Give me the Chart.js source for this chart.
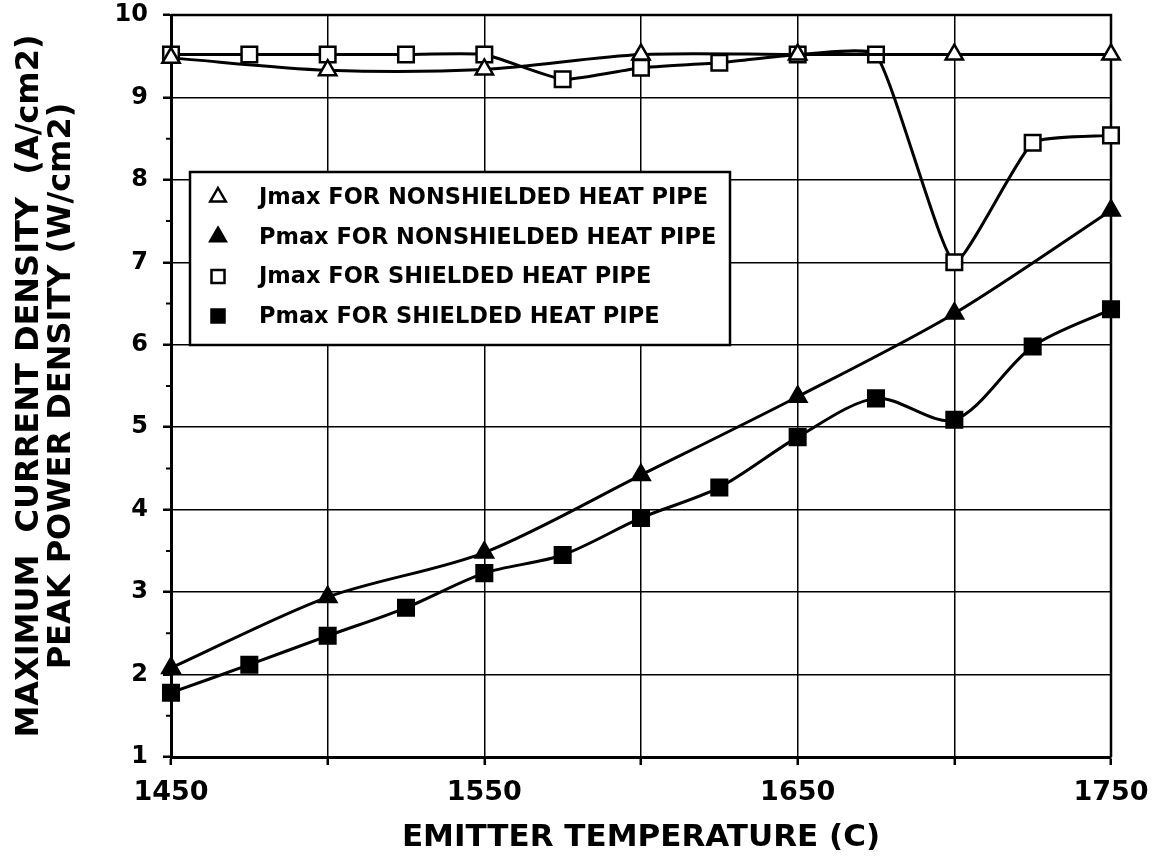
<!DOCTYPE html>
<html>
<head>
<meta charset="utf-8">
<script src="https://cdn.jsdelivr.net/npm/chart.js@4.4.0/dist/chart.umd.min.js"></script>
<style>
  html, body { margin: 0; padding: 0; background: #fff; }
</style>
</head>
<body>
<canvas id="myChart" width="1155" height="866"></canvas>
<script>
// emitter temperature (C)
const temps25 = [1450, 1475, 1500, 1525, 1550, 1575, 1600, 1625, 1650, 1675, 1700, 1725, 1750];
const temps50 = [1450, 1500, 1550, 1600, 1650, 1700, 1750];

// nonshielded heat pipe, every 50 C
const jmaxNonshielded = [9.48, 9.33, 9.34, 9.52, 9.52, 9.52, 9.52];
const pmaxNonshielded = [2.08, 2.94, 3.48, 4.42, 5.37, 6.38, 7.63];

// shielded heat pipe, every 25 C
const jmaxShielded = [9.52, 9.52, 9.52, 9.52, 9.52, 9.22, 9.36, 9.42, 9.52, 9.52, 7.0, 8.45, 8.54];
const pmaxShielded = [1.78, 2.12, 2.47, 2.81, 3.23, 3.45, 3.9, 4.27, 4.88, 5.35, 5.09, 5.98, 6.43];

const xTicks = [1450, 1500, 1550, 1600, 1650, 1700, 1750];
const xLabels = ["1450", "", "1550", "", "1650", "", "1750"];
const yMinor = [1.5, 2.5, 3.5, 4.5, 5.5, 6.5, 7.5, 8.5, 9.5];

const legendLabels = [
  "Jmax FOR NONSHIELDED HEAT PIPE",
  "Pmax FOR NONSHIELDED HEAT PIPE",
  "Jmax FOR SHIELDED HEAT PIPE",
  "Pmax FOR SHIELDED HEAT PIPE"
];

const FONT = "'DejaVu Sans', 'Liberation Sans', Arial, sans-serif";

let points = (xs, ys) => xs.map((x, i) => ({ x: x, y: ys[i] }));

let series = (label, xs, ys, style, filled, tension) => ({
  label: label,
  data: points(xs, ys),
  clip: false,
  borderColor: "#000",
  borderWidth: 3,
  tension: tension,
  fill: false,
  pointStyle: style,
  pointRadius: style === "triangle" ? 10 : 11,
  pointBorderWidth: 2.5,
  pointBorderColor: "#000",
  pointBackgroundColor: filled ? "#000" : "#fff"
});

// marker for the boxed legend
let drawMarker = (ctx, style, filled, x, y) => {
  ctx.beginPath();
  if (style === "triangle") {
    let r = 9;
    ctx.moveTo(x, y - r);
    ctx.lineTo(x + r * 0.866, y + r / 2);
    ctx.lineTo(x - r * 0.866, y + r / 2);
    ctx.closePath();
  } else {
    ctx.rect(x - 6.5, y - 6.5, 13, 13);
  }
  ctx.fillStyle = filled ? "#000" : "#fff";
  ctx.fill();
  ctx.lineWidth = 2.5;
  ctx.strokeStyle = "#000";
  ctx.stroke();
};

const framePlugin = {
  id: "frame",
  beforeDatasetsDraw(chart) {
    const { ctx, chartArea: a, scales } = chart;
    ctx.save();
    ctx.strokeStyle = "#000";
    ctx.lineWidth = 2.5;
    ctx.beginPath();
    ctx.moveTo(a.left, a.top);
    ctx.lineTo(a.right, a.top);
    ctx.lineTo(a.right, a.bottom);
    ctx.stroke();
    ctx.lineWidth = 2;
    ctx.beginPath();
    yMinor.forEach((v) => {
      let py = scales.y.getPixelForValue(v);
      ctx.moveTo(a.left - 5, py);
      ctx.lineTo(a.left, py);
    });
    ctx.stroke();
    ctx.restore();
  }
};

const legendPlugin = {
  id: "boxLegend",
  afterDatasetsDraw(chart) {
    const { ctx, chartArea: a } = chart;
    const styles = [["triangle", false], ["triangle", true], ["rect", false], ["rect", true]];
    let left = a.left + 19, top = a.top + 157, w = 540, h = 173;
    ctx.save();
    ctx.fillStyle = "#fff";
    ctx.fillRect(left, top, w, h);
    ctx.lineWidth = 2.5;
    ctx.strokeStyle = "#000";
    ctx.strokeRect(left, top, w, h);
    ctx.font = "bold 22.5px " + FONT;
    ctx.textBaseline = "middle";
    legendLabels.forEach((text, i) => {
      let cy = top + 25 + i * 39.7;
      drawMarker(ctx, styles[i][0], styles[i][1], left + 28, cy);
      ctx.fillStyle = "#000";
      ctx.fillText(text, left + 69, cy + 1);
    });
    ctx.restore();
  }
};

const gridOpts = {
  color: "#000",
  lineWidth: 1.5,
  borderDash: [2, 2],
  tickLength: 8,
  tickColor: "#000",
  tickWidth: 2.5,
  tickBorderDash: []
};

const ctx = document.getElementById("myChart").getContext("2d");
const chart = new Chart(ctx, {
  type: "line",
  data: {
    datasets: [
      series(legendLabels[0], temps50, jmaxNonshielded, "triangle", false, 0.3),
      series(legendLabels[1], temps50, pmaxNonshielded, "triangle", true, 0.3),
      series(legendLabels[2], temps25, jmaxShielded, "rect", false, 0.15),
      series(legendLabels[3], temps25, pmaxShielded, "rect", true, 0.3)
    ]
  },
  options: {
    responsive: false,
    animation: false,
    layout: { padding: { left: 0, right: 44, top: 15, bottom: 0 } },
    plugins: {
      legend: { display: false },
      tooltip: { enabled: false }
    },
    scales: {
      x: {
        type: "linear",
        min: 1450,
        max: 1750,
        afterBuildTicks: (scale) => {
          scale.ticks = xTicks.map((v) => ({ value: v }));
        },
        afterFit: (scale) => {
          scale.height = 109;
          scale.paddingLeft = 0;
          scale.paddingRight = 0;
        },
        ticks: {
          autoSkip: false,
          maxRotation: 0,
          padding: 12,
          color: "#000",
          font: { family: FONT, size: 27, weight: "bold" },
          callback: (value, index) => xLabels[index]
        },
        grid: gridOpts,
        border: { display: true, color: "#000", width: 3 },
        title: {
          display: true,
          text: "EMITTER TEMPERATURE (C)",
          color: "#000",
          font: { family: FONT, size: 31, weight: "bold" },
          padding: { top: 0, bottom: 9 }
        }
      },
      y: {
        min: 1,
        max: 10,
        afterFit: (scale) => {
          scale.width = 171;
          scale.paddingTop = 0;
          scale.paddingBottom = 0;
        },
        ticks: {
          stepSize: 1,
          padding: 15,
          color: "#000",
          font: { family: FONT, size: 24, weight: "bold" }
        },
        grid: gridOpts,
        border: { display: true, color: "#000", width: 3 },
        title: {
          display: true,
          text: ["MAXIMUM  CURRENT DENSITY  (A/cm2)", "PEAK POWER DENSITY (W/cm2)"],
          color: "#000",
          font: { family: FONT, size: 32, weight: "bold", lineHeight: "32px" },
          padding: { top: 14, bottom: 0 }
        }
      }
    }
  },
  plugins: [framePlugin, legendPlugin]
});
</script>
</body>
</html>
